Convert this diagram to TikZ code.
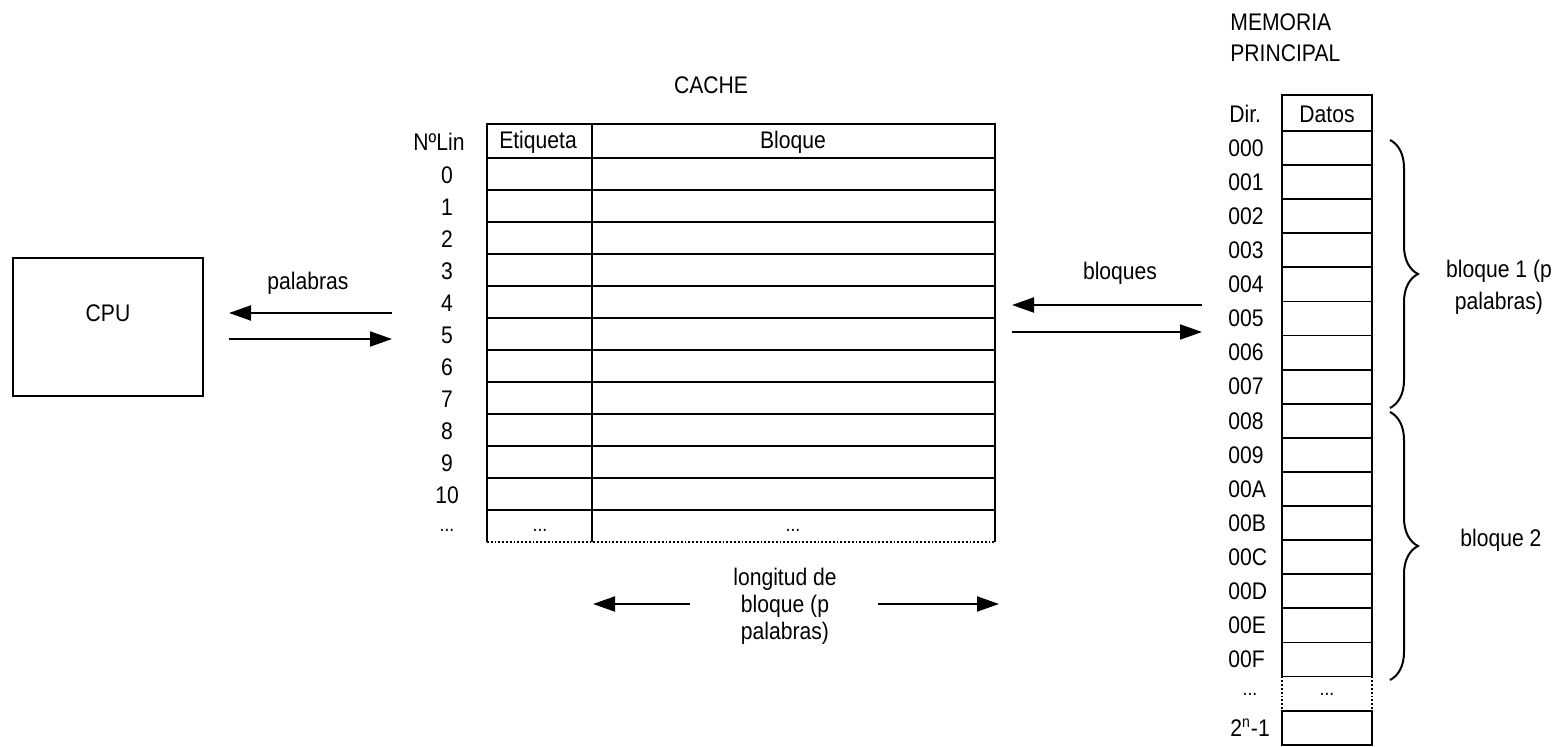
\documentclass[tikz,border=0pt]{standalone}
\usepackage{fontspec}
\setmainfont{Liberation Sans}[FakeStretch=0.88]
\usetikzlibrary{arrows.meta,positioning,calc,decorations.pathreplacing}
\tikzset{
  mem/box/.style={draw, line width=1pt, minimum width=95pt, minimum height=69pt, inner sep=0pt},
  mem/grid/.style={line width=0.9pt},
  mem/dots/.style={line width=0.9pt, densely dotted},
  mem/flow/.style={line width=1pt, -{Triangle[length=11pt,width=7.5pt]}},
  mem/txt/.style={inner sep=0pt, font=\fontsize{12}{16}\selectfont, align=center},
  mem/small/.style={inner sep=0pt, font=\fontsize{10}{12}\selectfont},
  mem/addr/.style={mem/txt, anchor=west},
  mem/brace/.style={line width=1pt, decorate, decoration={brace, amplitude=14pt}}
}

\begin{document}
\begin{tikzpicture}[x=0.5pt, y=-0.5pt]
  \useasboundingbox (0,0) rectangle (1560,747);

  \node[mem/box] (cpu) at (108,327) {};
  \node[mem/txt] (cpulbl) at (108,313) {CPU};

  \node[mem/txt] (palabras) at (308,283) {palabras};
  \coordinate (wordsA) at (392,313);
  \coordinate (wordsB) at (229,313);
  \coordinate (wordsC) at (229,339);
  \coordinate (wordsD) at (392,339);
  \draw[mem/flow] (wordsA) -- (wordsB);
  \draw[mem/flow] (wordsC) -- (wordsD);

  \node[mem/txt] (cachettl) at (711,85) {CACHE};
  \draw[mem/grid] (487,542) -- (487,124) -- (995,124) -- (995,542);
  \draw[mem/dots] (487,542) -- (995,542);
  \draw[mem/grid] (592,124) -- (592,542);
  \foreach \k in {0,...,11}
    \draw[mem/grid] (487,158+32*\k) -- (995,158+32*\k);
  \node[mem/txt] (linhd) at (439,142) {NºLin};
  \node[mem/txt] (etqhd) at (538,142) {Etiqueta};
  \node[mem/txt] (blqhd) at (793,142) {Bloque};
  \foreach \n in {0,...,10}
    \node[mem/txt] (lin\n) at (447,175+32*\n) {\n};
  \node[mem/small] (lindots) at (447,530) {...};
  \node[mem/small] (etqdots) at (540,530) {...};
  \node[mem/small] (blqdots) at (793,530) {...};

  \node[mem/txt, font=\fontsize{12}{13.6}\selectfont] (longlbl) at (785,606) {longitud de\\bloque (p\\palabras)};
  \coordinate (lenA) at (690,604);
  \coordinate (lenB) at (593,604);
  \coordinate (lenC) at (878,604);
  \coordinate (lenD) at (999,604);
  \draw[mem/flow] (lenA) -- (lenB);
  \draw[mem/flow] (lenC) -- (lenD);

  \node[mem/txt] (bloques) at (1120,273) {bloques};
  \coordinate (blkA) at (1202,305);
  \coordinate (blkB) at (1012,305);
  \coordinate (blkC) at (1012,332);
  \coordinate (blkD) at (1202,332);
  \draw[mem/flow] (blkA) -- (blkB);
  \draw[mem/flow] (blkC) -- (blkD);

  \node[mem/txt, anchor=north west, align=left, font=\fontsize{12}{15.5}\selectfont] (memttl) at (1230,13) {MEMORIA\\PRINCIPAL};
  \draw[mem/grid] (1282,95) rectangle (1372,131);
  \draw[mem/grid] (1282,131) -- (1282,676.6) (1372,131) -- (1372,676.6);
  \draw[mem/dots] (1282,676.6) -- (1282,710.7) (1372,676.6) -- (1372,710.7);
  \draw[mem/grid] (1282,710.7) rectangle (1372,744.8);
  \foreach \k in {1,...,16}
    \draw[mem/grid] (1282,131+34.1*\k) -- (1372,131+34.1*\k);
  \node[mem/txt] (datoshd) at (1327,114) {Datos};
  \node[mem/addr] (dirhd) at (1229,114) {Dir.};
  \foreach \a [count=\k from 0] in {000,001,002,003,004,005,006,007,008,009,00A,00B,00C,00D,00E,00F}
    \node[mem/addr] (dir\a) at (1228,148+34.1*\k) {\a};
  \node[mem/small] (dirdots) at (1250,694) {...};
  \node[mem/small] (datdots) at (1327,694) {...};
  \node[mem/addr] (dirlast) at (1230,728) {2\textsuperscript{n}-1};

  \coordinate (br1top) at (1390,140);
  \coordinate (br1bot) at (1390,408);
  \coordinate (br2top) at (1390,412);
  \coordinate (br2bot) at (1390,680);
  \draw[mem/brace] (br1top) -- (br1bot);
  \draw[mem/brace] (br2top) -- (br2bot);
  \node[mem/txt] (blq1) at (1499,287) {bloque 1 (p\\palabras)};
  \node[mem/txt] (blq2) at (1501,540) {bloque 2};
\end{tikzpicture}
\end{document}
